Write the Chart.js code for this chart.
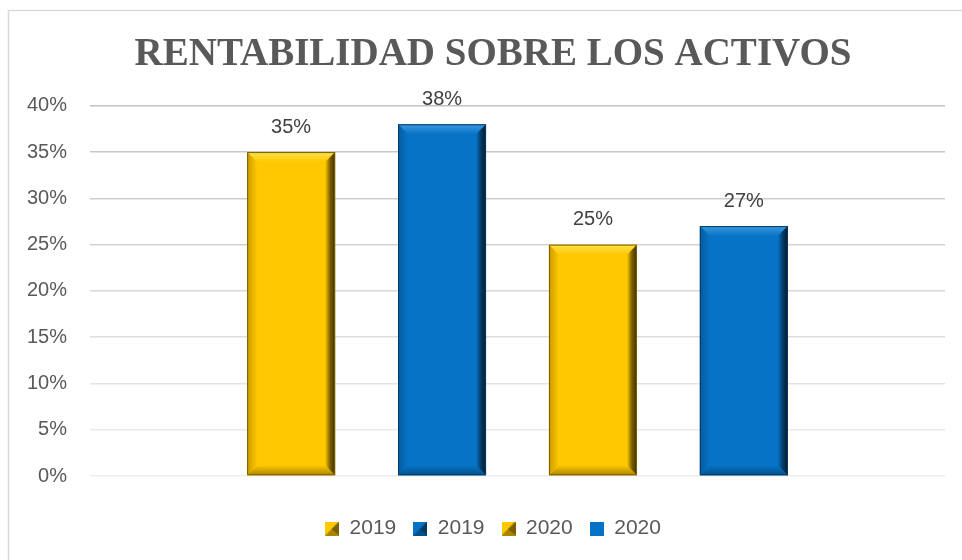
<!DOCTYPE html>
<html>
<head>
<meta charset="utf-8">
<script src="https://cdn.jsdelivr.net/npm/chart.js@4.4.1/dist/chart.umd.min.js"></script>
<style>
  html, body { margin: 0; padding: 0; background: #fff; overflow: hidden; }
  #wrap { width: 980px; height: 560px; position: relative; }
</style>
</head>
<body>
<div id="wrap"><canvas id="myChart"></canvas></div>
<script>
const seriesNames = ['2019', '2019', '2020', '2020'];
const seriesValues = [0.35, 0.38, 0.25, 0.27];
const yTicks = ['0%', '5%', '10%', '15%', '20%', '25%', '30%', '35%', '40%'];

const GOLD = '#FFC800';
const BLUE = '#0673C6';
const palette = [GOLD, BLUE, GOLD, BLUE];

// shades for the bevel look
const shades = {
  [GOLD]: { top: '#FFE24A', edge: '#7A5E00', dark: '#3d2f00', bottom: '#A98500', left: '#C99A00' },
  [BLUE]: { top: '#3B98E0', edge: '#053A63', dark: '#021a2e', bottom: '#04528C', left: '#055C9E' },
};

function legendIcon(color, bevel) {
  const c = document.createElement('canvas');
  c.width = 14; c.height = 14;
  const g = c.getContext('2d');
  g.fillStyle = color;
  g.fillRect(0, 0, 14, 14);
  if (bevel) {
    const s = shades[color];
    g.fillStyle = s.edge;
    g.beginPath(); g.moveTo(14, 0); g.lineTo(14, 14); g.lineTo(6, 8); g.closePath(); g.fill();
    g.fillStyle = s.bottom;
    g.beginPath(); g.moveTo(0, 14); g.lineTo(14, 14); g.lineTo(6, 8); g.closePath(); g.fill();
  }
  return c;
}
const icons = palette.map((c, i) => legendIcon(c, i < 3));

const bevelPlugin = {
  id: 'bevel',
  afterDatasetsDraw(chart) {
    const ctx = chart.ctx;
    chart.data.datasets.forEach((ds, di) => {
      const s = shades[palette[di]];
      chart.getDatasetMeta(di).data.forEach((el, idx) => {
        const p = el.getProps(['x', 'y', 'base', 'width'], true);
        const l = p.x - p.width / 2, r = p.x + p.width / 2, t = p.y, b = p.base;
        const k = 10;
        ctx.save();
        // top
        let gr = ctx.createLinearGradient(0, t, 0, t + k);
        gr.addColorStop(0, s.top); gr.addColorStop(1, palette[di]);
        ctx.fillStyle = gr;
        ctx.beginPath(); ctx.moveTo(l, t); ctx.lineTo(r, t); ctx.lineTo(r - k, t + k); ctx.lineTo(l + k, t + k); ctx.closePath(); ctx.fill();
        // bottom
        gr = ctx.createLinearGradient(0, b - k, 0, b);
        gr.addColorStop(0, palette[di]); gr.addColorStop(1, s.bottom);
        ctx.fillStyle = gr;
        ctx.beginPath(); ctx.moveTo(l, b); ctx.lineTo(r, b); ctx.lineTo(r - k, b - k); ctx.lineTo(l + k, b - k); ctx.closePath(); ctx.fill();
        // left
        gr = ctx.createLinearGradient(l, 0, l + k, 0);
        gr.addColorStop(0, s.left); gr.addColorStop(1, palette[di]);
        ctx.fillStyle = gr;
        ctx.beginPath(); ctx.moveTo(l, t); ctx.lineTo(l + k, t + k); ctx.lineTo(l + k, b - k); ctx.lineTo(l, b); ctx.closePath(); ctx.fill();
        // right
        gr = ctx.createLinearGradient(r - k, 0, r, 0);
        gr.addColorStop(0, palette[di]); gr.addColorStop(0.5, s.edge); gr.addColorStop(1, s.dark);
        ctx.fillStyle = gr;
        ctx.beginPath(); ctx.moveTo(r, t); ctx.lineTo(r - k, t + k); ctx.lineTo(r - k, b - k); ctx.lineTo(r, b); ctx.closePath(); ctx.fill();
        // thin outline
        ctx.strokeStyle = s.edge;
        ctx.lineWidth = 1;
        ctx.strokeRect(l + 0.5, t + 0.5, p.width - 1, b - t - 1);
        ctx.restore();

        // value label
        const v = ds.data[idx];
        ctx.save();
        ctx.font = '20px "Liberation Sans", Arial, sans-serif';
        ctx.fillStyle = '#404040';
        ctx.textAlign = 'center';
        ctx.textBaseline = 'middle';
        ctx.fillText(Math.round(v * 100) + '%', p.x, t - 25);
        ctx.restore();
      });
    });
  }
};

const framePlugin = {
  id: 'frame',
  beforeDraw(chart) {
    const ctx = chart.ctx;
    ctx.save();
    ctx.fillStyle = '#fff';
    ctx.fillRect(0, 0, chart.width, chart.height);
    ctx.strokeStyle = '#d9d9d9';
    ctx.lineWidth = 1.5;
    ctx.strokeRect(8.5, 10.5, 968, 600);
    ctx.restore();
  }
};

const data = {
  labels: [''],
  datasets: seriesNames.map((name, i) => ({
    label: name,
    data: [seriesValues[i]],
    yAxisID: 'y',
    backgroundColor: palette[i],
    borderWidth: 0,
    categoryPercentage: 0.706,
    barPercentage: 0.583,
    pointStyle: icons[i],
  })),
};

const config = {
  type: 'bar',
  data: data,
  plugins: [framePlugin, bevelPlugin],
  options: {
    responsive: true,
    maintainAspectRatio: false,
    animation: false,
    layout: { padding: { left: 8, right: 2, top: 0, bottom: 11 } },
    plugins: {
      title: {
        display: true,
        text: 'RENTABILIDAD SOBRE LOS ACTIVOS',
        color: '#595959',
        font: { family: '"Liberation Serif", "Times New Roman", serif', size: 39, weight: 'bold' },
        padding: { top: 32, bottom: 27 },
      },
      legend: {
        position: 'bottom',
        labels: {
          usePointStyle: true,
          boxWidth: 14,
          color: '#595959',
          font: { family: '"Liberation Sans", Arial, sans-serif', size: 21 },
          padding: 17,
        },
      },
      tooltip: { enabled: false },
    },
    scales: {
      x: {
        grid: { display: false },
        border: { display: false },
        ticks: { display: false },
        afterFit: (s) => { s.height = 25; },
      },
      y: {
        min: 0,
        max: 0.4,
        afterFit: (s) => { s.width = 82; },
        afterBuildTicks: (s) => { s.ticks = yTicks.map((t, i) => ({ value: i * 0.05 })); },
        ticks: {
          padding: 23,
          color: '#595959',
          font: { family: '"Liberation Sans", Arial, sans-serif', size: 20 },
          callback: (v, i) => yTicks[i],
        },
        border: { display: false },
        grid: {
          drawTicks: false,
          lineWidth: 1.5,
          color: (c) => {
            const f = c.tick ? c.tick.value / 0.4 : 0;
            const g = Math.round(238 - f * 44);
            return `rgb(${g},${g},${g})`;
          },
        },
      },
      // empty right-hand strip so the title and legend center like the original
      pad: {
        type: 'linear',
        position: 'right',
        grid: { display: false },
        border: { display: false },
        ticks: { display: false },
        afterFit: (s) => { s.width = 33; },
      },
    },
  },
};

const myChart = new Chart(document.getElementById('myChart').getContext('2d'), config);
</script>
</body>
</html>
